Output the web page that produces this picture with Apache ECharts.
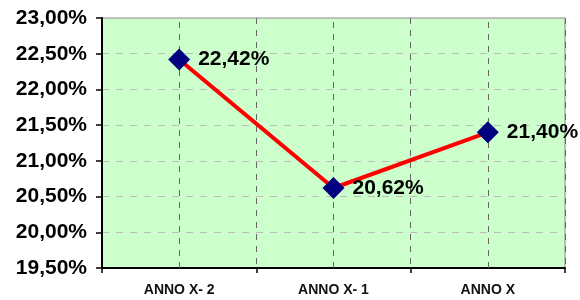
<!DOCTYPE html>
<html>
<head>
<meta charset="utf-8">
<script src="https://cdn.jsdelivr.net/npm/echarts@6/dist/echarts.min.js"></script>
<style>
  html, body { margin: 0; padding: 0; background: #fff; }
  #main { width: 580px; height: 300px; }
</style>
</head>
<body>
<div id="main"></div>
<script>
// dati del grafico
var categorie = ["ANNO X- 2", "ANNO X- 1", "ANNO X"];
var valori = [22.42, 20.62, 21.40];
var yMin = 19.5;
var yMax = 23;
var yPasso = 0.5;

function percento(v) {
    return v.toFixed(2).replace(".", ",") + "%";
}

var chart = echarts.init(document.getElementById("main"));

var option = {
    animation: false,
    grid: {
        left: 102, right: 15, top: 18, bottom: 32,
        show: true,
        backgroundColor: "#CCFFCC",
        borderColor: "#888888",
        borderWidth: 1
    },
    xAxis: {
        type: "category",
        data: categorie,
        boundaryGap: true,
        axisLine: { lineStyle: { color: "#000", width: 2 } },
        axisTick: { show: true, length: 5, lineStyle: { color: "#000", width: 1.5 } },
        axisLabel: {
            margin: 15,
            color: "#111",
            fontFamily: "Liberation Sans, Arial",
            fontWeight: "bold",
            fontSize: 14
        },
        splitLine: {
            show: true,
            lineStyle: { color: "#666666", type: [6, 6], width: 1 }
        }
    },
    yAxis: {
        type: "value",
        min: yMin,
        max: yMax,
        interval: yPasso,
        axisLine: { show: true, lineStyle: { color: "#000", width: 2 } },
        axisTick: { show: true, length: 6, lineStyle: { color: "#000", width: 1.5 } },
        axisLabel: {
            margin: 15,
            color: "#000",
            fontFamily: "Liberation Sans, Arial",
            fontWeight: "bold",
            fontSize: 21,
            formatter: percento
        },
        splitLine: {
            show: true,
            lineStyle: { color: "#BBBBBB", type: [7, 7], width: 1 }
        }
    },
    series: [{
        type: "line",
        data: valori,
        symbol: "diamond",
        symbolSize: 22,
        itemStyle: { color: "#000080" },
        lineStyle: { color: "#FF0000", width: 4 },
        z: 5,
        label: {
            show: true,
            position: "right",
            distance: 8,
            color: "#000",
            fontFamily: "Liberation Sans, Arial",
            fontWeight: "bold",
            fontSize: 21,
            formatter: function (p) { return percento(p.value); }
        },
        markLine: {
            silent: true,
            symbol: "none",
            label: { show: false },
            lineStyle: { color: "#666666", type: [6, 6], width: 1 },
            data: categorie.map(function (c) { return { xAxis: c }; })
        }
    }]
};

chart.setOption(option);
</script>
</body>
</html>
